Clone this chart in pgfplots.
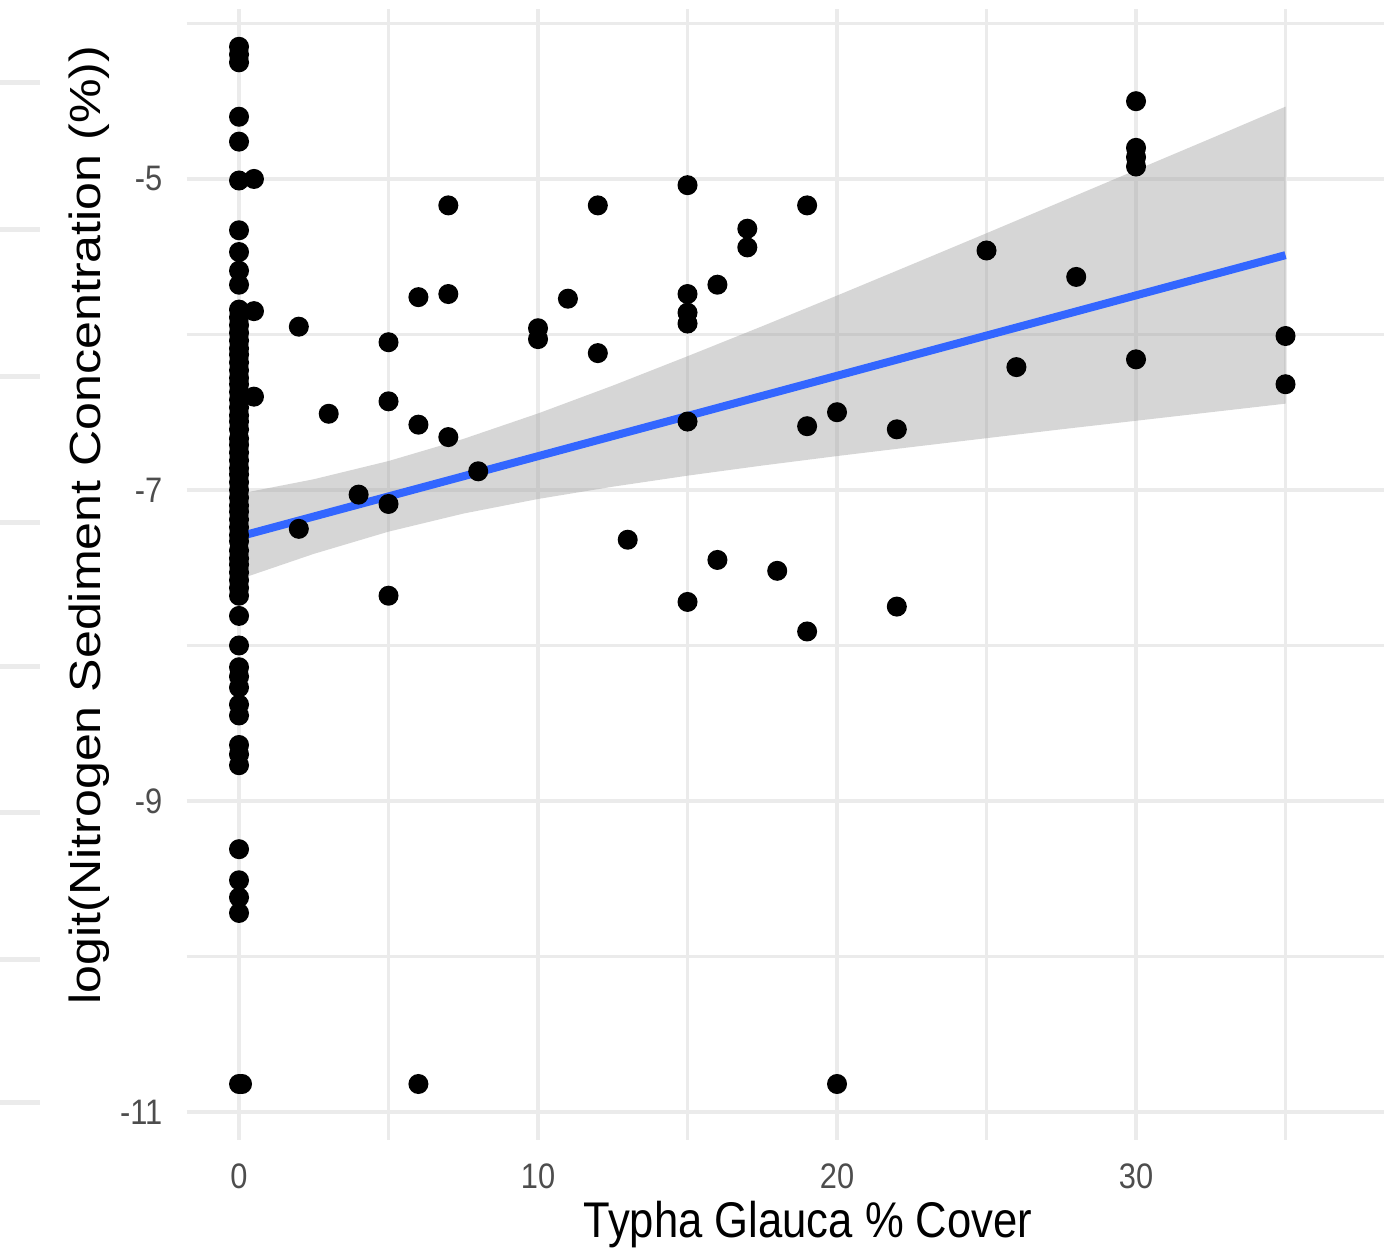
\documentclass[border=0pt]{standalone}
\usepackage{fontspec}
\setmainfont{Liberation Sans}
\usepackage{pgfplots}
\usepackage{pgfplotstable}
\pgfplotsset{compat=1.18}

\definecolor{gridgray}{HTML}{EBEBEB}
\definecolor{ticktext}{HTML}{4D4D4D}
\definecolor{smoothblue}{HTML}{3366FF}
\definecolor{ribbon}{HTML}{999999}

% cover (%) vs logit(N sediment concentration)
\pgfplotstableread{
x y
0 -4.15
0 -4.20
0 -4.25
0 -4.60
0 -4.76
0 -5.01
0 -5.33
0 -5.47
0 -5.59
0 -5.68
0 -5.84
0 -5.89
0 -5.94
0 -5.99
0 -6.04
0 -6.09
0 -6.13
0 -6.18
0 -6.23
0 -6.28
0 -6.32
0 -6.37
0 -6.42
0 -6.47
0 -6.52
0 -6.56
0 -6.61
0 -6.67
0 -6.71
0 -6.76
0 -6.81
0 -6.86
0 -6.90
0 -6.95
0 -7.00
0 -7.05
0 -7.10
0 -7.14
0 -7.19
0 -7.24
0 -7.29
0 -7.33
0 -7.39
0 -7.44
0 -7.48
0 -7.53
0 -7.58
0 -7.63
0 -7.68
0 -7.81
0 -8.00
0 -8.14
0 -8.20
0 -8.27
0 -8.38
0 -8.45
0 -8.64
0 -8.70
0 -8.77
0 -9.31
0 -9.51
0 -9.62
0 -9.72
0 -10.82
0.1 -10.82
0.5 -5.00
0.5 -5.85
0.5 -6.40
2 -5.95
3 -6.51
2 -7.25
4 -7.03
5 -6.05
5 -6.43
5 -7.09
5 -7.68
6 -5.76
6 -6.58
6 -10.82
7 -5.17
7 -5.74
7 -6.66
8 -6.88
10 -5.96
10 -6.03
11 -5.77
12 -5.17
12 -6.12
13 -7.32
15 -5.04
15 -5.74
15 -5.86
15 -5.93
15 -6.56
15 -7.72
16 -5.68
16 -7.45
17 -5.32
17 -5.44
18 -7.52
19 -5.17
19 -6.59
19 -7.91
20 -6.50
20 -10.82
22 -6.61
22 -7.75
25 -5.46
26 -6.21
28 -5.63
30 -4.50
30 -4.80
30 -4.86
30 -4.92
30 -6.16
35 -6.01
35 -6.32
}\nitrogen

\begin{document}
\begin{tikzpicture}
\begin{axis}[
  name=ax, at={(0,0)}, anchor=south west,
  scale only axis, width=299.33pt, height=282.75pt,
  xmin=-1.75, xmax=38.294, ymin=-11.18, ymax=-3.907,
  enlargelimits=false,
  axis line style={draw=none},
  major tick length=0pt, minor tick length=0pt,
  xtick={0,10,20,30}, xticklabels={0,10,20,30},
  ytick={-11,-9,-7,-5}, yticklabels={-11,-9,-7,-5},
  minor xtick={5,15,25,35}, minor ytick={-10,-8,-6,-4},
  grid=both,
  major grid style={gridgray, line width=1pt},
  minor grid style={gridgray, line width=0.6pt},
  ticklabel style={font=\fontsize{7.7}{8}\selectfont, text=ticktext, inner sep=0pt},
  xticklabel style={anchor=north, yshift=-5.75pt, yscale=1.15},
  yticklabel style={anchor=east, xshift=-5.9pt, yscale=1.15},
  xlabel={Typha Glauca \% Cover},
  ylabel={logit(Nitrogen Sediment Concentration (\%))},
  every axis x label/.style={at={(rel axis cs:0.519,0)}, anchor=north,
    yshift=-15pt, yscale=1.15, inner sep=0pt, font=\fontsize{10.9}{12}\selectfont},
  every axis y label/.style={at={(rel axis cs:-0.0724,0.5438)}, anchor=base,
    rotate=90, xscale=1.15, inner sep=0pt, font=\fontsize{10.9}{12}\selectfont},
]
\addplot[only marks, mark=*, mark size=2.3pt, black] table[x=x, y=y] {\nitrogen};

% confidence band, upper edge then lower edge back
\addplot[draw=none, fill=ribbon, fill opacity=0.4] coordinates {
  (0,-7.025) (2.5,-6.931) (5,-6.814) (7.5,-6.672) (10,-6.508) (12.5,-6.329)
  (15,-6.140) (17.5,-5.947) (20,-5.750) (22.5,-5.550) (25,-5.349) (27.5,-5.146)
  (30,-4.943) (32.5,-4.740) (35,-4.535)
  (35,-6.445) (32.5,-6.500) (30,-6.555) (27.5,-6.610) (25,-6.667) (22.5,-6.724)
  (20,-6.782) (17.5,-6.843) (15,-6.908) (12.5,-6.979) (10,-7.058) (7.5,-7.152)
  (5,-7.268) (2.5,-7.411) (0,-7.575)
};
\addplot[smoothblue, line width=2pt] coordinates {(0,-7.30) (35,-5.49)};
\end{axis}

% grid remnants of the neighbouring panel
\foreach \yy in {264.25,227.5,190.75,154.25,118.25,81.75,45,9.25}
  \draw[gridgray, line width=1.25pt] (-46.675pt,\yy pt) -- ++(10pt,0);

\pgfresetboundingbox
\useasboundingbox (-46.675pt,-27.25pt) rectangle (299.325pt,285pt);
\end{tikzpicture}
\end{document}
